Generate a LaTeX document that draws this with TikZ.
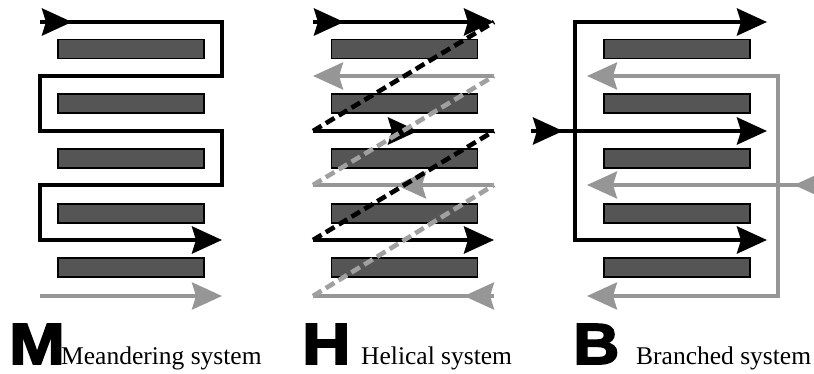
\documentclass[tikz,border=0pt]{standalone}
\usepackage{fontspec}
\setmainfont{Liberation Serif}
\newfontfamily\bigletter{Liberation Sans}[BoldFeatures={FakeBold=3}]
\usetikzlibrary{arrows.meta}
\definecolor{barfill}{RGB}{85,85,85}
\definecolor{flowgray}{RGB}{150,150,150}
\definecolor{dashgray}{RGB}{160,160,160}
\tikzset{
  head/.tip={Stealth[length=30pt,width=27pt,inset=4pt]},
  bar/.style={draw=black, line width=1.3pt, fill=barfill, minimum width=146pt,
              minimum height=19pt, inner sep=0pt},
  blk/.style={line width=4.3pt, draw=black},
  gry/.style={line width=3.8pt, draw=flowgray},
  tip/.style={-head},
  bothtips/.style={head-head},
  blkdash/.style={line width=4.6pt, draw=black, dash pattern=on 10pt off 5pt},
  grydash/.style={line width=4.6pt, draw=dashgray, dash pattern=on 10pt off 5pt},
  biglabel/.style={anchor=base west, inner sep=0pt, font=\fontsize{58}{58}\selectfont\bigletter\bfseries},
  caption/.style={anchor=base west, inner sep=0pt, font=\fontsize{25.5}{25.5}\selectfont}
}
\begin{document}
\begin{tikzpicture}[x=1pt,y=-1pt]
\useasboundingbox (0,0) rectangle (814,374);
\clip (0,0) rectangle (814,374);

% ---------- cooling plates (five per layout) ----------
\foreach \cx/\p in {131/m, 404.5/h, 677/b}{
  \foreach \cy [count=\i] in {49,103.5,158.5,213.5,267.5}
    \node[bar] (\p\i) at (\cx,\cy) {};
}

% ---------- meandering layout ----------
\coordinate (mA) at (40,22);   \coordinate (mB) at (222,22);
\coordinate (mC) at (222,76);  \coordinate (mD) at (40,76);
\coordinate (mE) at (40,131);  \coordinate (mF) at (222,131);
\coordinate (mG) at (222,185); \coordinate (mH) at (40,185);
\coordinate (mI) at (40,240);  \coordinate (mJ) at (222,240);
\coordinate (mInTip) at (72,22);
\coordinate (mGs) at (40,296); \coordinate (mGe) at (222,296);
\draw[blk, tip] (mA) -- (mB) -- (mC) -- (mD) -- (mE) -- (mF) -- (mG) -- (mH) -- (mI) -- (mJ);
\draw[blk, tip] (mA) -- (mInTip);
\draw[gry, tip] (mGs) -- (mGe);

% ---------- helical layout ----------
\foreach \y/\n in {22/1,76/2,131/3,185/4,240/5,296/6}{
  \coordinate (hL\n) at (313,\y);
  \coordinate (hR\n) at (494,\y);
}
% rows going right (black) and left (gray)
\draw[blk, tip] (hL1) -- (hR1);
\draw[blk, tip] (hL1) -- (344,22);
\draw[gry, tip] (hR2) -- (hL2);
\draw[blk] (hL3) -- (hR3);
\draw[blk, tip] (388,131) -- (418,131);
\draw[gry] (hL4) -- (hR4);
\draw[gry, tip] (426,185) -- (396,185);
\draw[blk, tip] (hL5) -- (hR5);
\draw[gry] (hL6) -- (hR6);
\draw[gry, tip] (494,296) -- (464,296);
% returns between rows
\draw[blkdash] (hL3) -- (hR1);
\draw[blkdash] (hL5) -- (hR3);
\draw[grydash] (hL4) -- (hR2);
\draw[grydash] (hL6) -- (hR4);

% ---------- branched layout ----------
\coordinate (bT1) at (767,22);  \coordinate (bC1) at (575,22);
\coordinate (bC2) at (575,240); \coordinate (bT2) at (767,240);
\coordinate (bIn) at (531,131); \coordinate (bInTip) at (563,131);
\coordinate (bT3) at (767,131);
\draw[blk, bothtips] (bT1) -- (bC1) -- (bC2) -- (bT2);
\draw[blk, tip] (bIn) -- (bT3);
\draw[blk, tip] (bIn) -- (bInTip);

\coordinate (gT1) at (587,76);  \coordinate (gC1) at (778,76);
\coordinate (gC2) at (778,296); \coordinate (gT2) at (587,296);
\coordinate (gIn) at (830,185); \coordinate (gInTip) at (794,185);
\coordinate (gT3) at (587,185);
\draw[gry, bothtips] (gT1) -- (gC1) -- (gC2) -- (gT2);
\draw[gry, tip] (gIn) -- (gT3);
\draw[gry, tip] (gIn) -- (gInTip);

% ---------- captions ----------
\node[biglabel] (capM) at (9,364) {\scalebox{1.15}[1]{M}};
\node[caption] (txtM) at (61,364) {Meandering system};
\node[biglabel] (capH) at (302,364) {\scalebox{1.15}[1]{H}};
\node[caption] (txtH) at (361,364) {Helical system};
\node[biglabel] (capB) at (573,364) {\scalebox{1.1}[1]{B}};
\node[caption] (txtB) at (636,364) {Branched system};
\end{tikzpicture}
\end{document}
